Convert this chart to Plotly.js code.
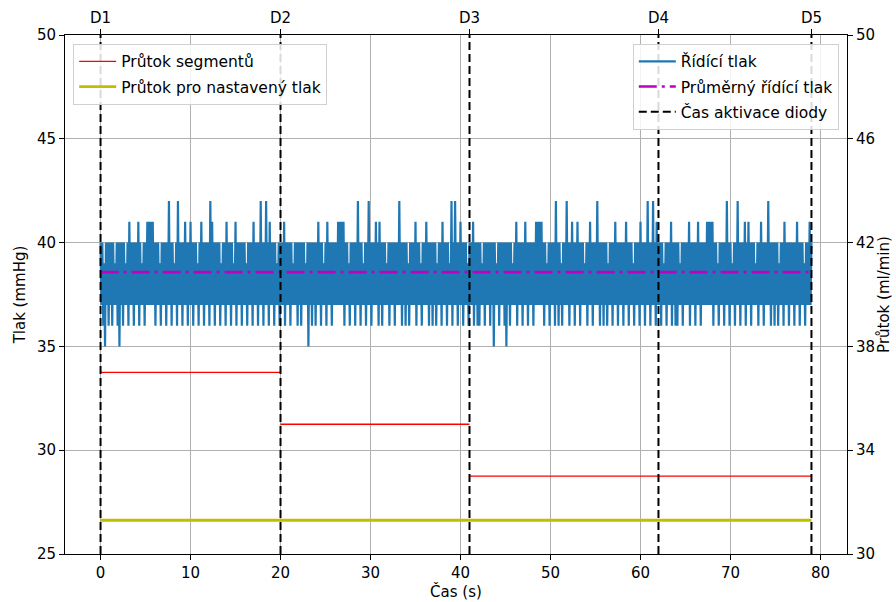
<!DOCTYPE html>
<html>
<head>
<meta charset="utf-8">
<script src="https://cdn.plot.ly/plotly-3.0.1.min.js"></script>
<style>html,body{margin:0;padding:0;background:#fff}#chart{width:896px;height:602px}</style>
</head>
<body>
<div id="chart"></div>
<script>
// Control pressure samples (mmHg), one row per second, 0.1 s apart
const pressureValues = [
40,37,40,36,39,35,40,37,40,36,
40,37,40,36,40,37,39,37,40,36,
40,35,40,37,40,36,40,37,39,37,
40,36,41,37,40,37,40,36,40,37,
40,37,41,36,40,37,39,37,40,36,
40,37,41,37,41,37,41,37,41,37,
40,36,40,37,40,37,39,36,40,37,
40,37,40,36,40,37,42,37,40,36,
40,37,39,37,40,36,42,37,40,37,
40,36,40,37,41,37,40,36,40,37,
41,37,40,36,40,37,40,37,39,36,
40,37,41,37,40,36,40,37,40,37,
40,36,42,37,41,37,40,36,40,37,
40,37,40,36,39,37,40,37,40,36,
41,37,40,37,40,36,40,37,39,37,
41,36,40,37,40,37,40,36,40,37,
40,37,39,36,40,37,40,37,40,36,
41,37,40,37,40,36,40,37,42,37,
40,36,40,37,42,37,40,36,41,37,
40,37,40,36,40,37,39,37,40,36,
40,37,40,37,41,36,40,37,40,37,
40,36,40,37,39,37,40,37,40,36,
40,37,40,36,40,37,40,37,39,37,
40,35,40,37,40,36,40,37,40,36,
40,37,41,37,40,36,40,37,39,37,
40,36,41,37,40,37,40,36,40,37,
40,37,40,37,41,37,41,37,41,37,
41,36,40,37,40,37,39,36,40,37,
40,37,40,36,40,37,42,37,40,36,
40,37,39,37,40,36,40,37,42,37,
40,36,40,37,40,37,41,37,40,36,
41,37,40,36,40,37,40,37,39,37,
40,36,40,37,40,37,40,36,40,37,
40,37,42,37,40,36,40,37,40,36,
40,37,39,36,40,37,40,37,40,37,
41,36,40,37,40,37,39,36,40,37,
40,37,41,37,40,36,40,37,40,36,
40,37,40,36,39,37,40,37,40,36,
41,37,40,37,40,36,40,37,39,37,
42,36,40,37,42,37,40,36,40,37,
41,37,40,36,40,37,40,37,39,36,
40,37,40,37,41,36,40,37,40,36,
40,36,40,37,39,37,40,36,40,37,
40,37,40,36,40,37,40,35,40,37,
39,37,40,36,40,37,40,37,40,36,
40,35,40,37,40,36,40,37,39,37,
40,37,41,36,40,37,40,37,40,36,
40,37,41,37,40,36,40,37,40,37,
40,36,40,37,41,37,41,37,41,37,
41,37,40,36,40,37,39,37,40,36,
40,37,40,37,40,36,42,37,40,36,
40,37,39,36,40,37,40,37,42,37,
40,36,40,37,41,37,40,36,40,37,
41,37,40,36,40,37,40,37,39,37,
40,36,40,37,41,37,40,36,40,37,
40,37,42,37,40,36,40,37,40,36,
40,37,40,36,39,37,40,37,40,36,
40,37,41,37,40,36,40,37,40,37,
40,36,40,37,41,37,40,36,40,37,
40,37,39,36,40,37,40,37,40,36,
41,37,40,37,40,36,40,37,42,37,
40,36,40,37,42,37,40,36,41,37,
40,37,40,36,40,37,39,37,40,36,
40,37,40,37,41,36,40,37,40,36,
40,36,40,37,39,37,40,36,40,37,
40,37,40,37,41,36,40,37,40,37,
40,36,40,37,41,37,40,36,40,37,
40,37,40,37,41,37,41,37,41,37,
41,36,40,37,40,37,39,36,40,37,
40,37,40,36,40,37,42,37,40,36,
40,37,39,37,40,36,40,37,42,37,
40,36,40,37,40,37,41,36,40,37,
41,37,40,36,40,37,40,37,39,37,
40,36,40,37,41,37,40,36,40,37,
40,37,42,37,40,36,40,37,40,36,
40,37,40,36,39,37,40,37,40,36,
41,37,40,37,40,36,40,37,40,37,
40,36,40,37,41,37,40,36,40,37,
40,37,39,36,40,37,40,37,41,37,
40
];
const sampleStep = 0.1;
const meanPressure = 38.58;

const diodeTimes = [0, 20, 41, 62, 79];
const diodeLabels = ['D1', 'D2', 'D3', 'D4', 'D5'];

const segmentStart = [0, 20, 41];
const segmentEnd = [20, 41, 79];
const segmentFlow = [37.0, 35.0, 33.0];
const setFlow = 31.3;

const timeTicks = [0, 10, 20, 30, 40, 50, 60, 70, 80];
const pressureTicks = [25, 30, 35, 40, 45, 50];
const flowTicks = [30, 34, 38, 42, 46, 50];
const pressureRange = [25, 50];
const flowRange = [30, 50];
const timeRange = [-3.95, 82.95];

// Build helper arrays
const diodeX = [], diodeY = [];
diodeTimes.forEach(t => { diodeX.push(t, t, null); diodeY.push(pressureRange[0], pressureRange[1], null); });
const segX = [], segY = [];
segmentStart.forEach((s, i) => { segX.push(s, segmentEnd[i], null); segY.push(segmentFlow[i], segmentFlow[i], null); });
const tStart = diodeTimes[0], tEnd = diodeTimes[diodeTimes.length - 1];

const traces = [
  {type:'scatter', mode:'lines', name:'Řídící tlak', y:pressureValues, x0:0, dx:sampleStep,
   xaxis:'x', yaxis:'y', line:{color:'#1f77b4', width:2.2, simplify:false}, legend:'legend2', legendgroup:'a'},
  {type:'scatter', mode:'lines', name:'Průměrný řídící tlak', x:[tStart, tEnd], y:[meanPressure, meanPressure],
   xaxis:'x', yaxis:'y', line:{color:'#bf00bf', width:2.6, dash:'18px,5px,3px,5px'}, legend:'legend2', legendgroup:'b'},
  {type:'scatter', mode:'lines', name:'Čas aktivace diody', x:diodeX, y:diodeY,
   xaxis:'x2', yaxis:'y', line:{color:'#000000', width:2, dash:'8px,4px'}, legend:'legend2', legendgroup:'c'},
  {type:'scatter', mode:'lines', name:'Průtok segmentů', x:segX, y:segY,
   xaxis:'x', yaxis:'y2', line:{color:'#ff0000', width:1.3}, legend:'legend', legendgroup:'d'},
  {type:'scatter', mode:'lines', name:'Průtok pro nastavený tlak', x:[tStart, tEnd], y:[setFlow, setFlow],
   xaxis:'x', yaxis:'y2', line:{color:'#bfbf00', width:2.8}, legend:'legend', legendgroup:'e'}
];

const FS = 15;
const font = {family:'DejaVu Sans, sans-serif', size:FS, color:'#000'};
const legendCommon = {bgcolor:'rgba(255,255,255,0.85)', bordercolor:'#d0d0d0', borderwidth:1, itemwidth:37,
  font:{family:'DejaVu Sans, sans-serif', size:15.5, color:'#000'}, traceorder:'grouped', tracegroupgap:2, yanchor:'top'};

const layout = {
  width:896, height:602,
  margin:{l:65, r:49, t:35, b:48},
  paper_bgcolor:'#fff', plot_bgcolor:'#fff',
  font:font,
  showlegend:true,
  xaxis:{range:timeRange, tickvals:timeTicks, ticktext:timeTicks.map(String), showgrid:true, gridcolor:'#b0b0b0', gridwidth:1,
    zeroline:false, showline:true, linecolor:'#000', linewidth:1, mirror:true, ticks:'outside', ticklen:5, tickcolor:'#000',
    title:{text:'Čas (s)', font:{size:FS}, standoff:4}},
  xaxis2:{range:timeRange, overlaying:'x', side:'top', tickvals:diodeTimes, ticktext:diodeLabels, showgrid:false,
    zeroline:false, showline:false, ticks:'outside', ticklen:5, tickcolor:'#000'},
  yaxis:{range:pressureRange, tickvals:pressureTicks, ticktext:pressureTicks.map(String), showgrid:true, gridcolor:'#b0b0b0', gridwidth:1,
    zeroline:false, showline:true, linecolor:'#000', linewidth:1, mirror:true, ticks:'outside', ticklen:5, tickcolor:'#000',
    title:{text:'Tlak (mmHg)', font:{size:FS}, standoff:7}},
  yaxis2:{range:flowRange, overlaying:'y', side:'right', tickvals:flowTicks, ticktext:flowTicks.map(String), showgrid:false,
    zeroline:false, showline:false, ticks:'outside', ticklen:5, tickcolor:'#000',
    title:{text:'Průtok (ml/min)', font:{size:FS}, standoff:2}},
  legend:Object.assign({x:0.0105, y:0.983, xanchor:'left'}, legendCommon),
  legend2:Object.assign({x:0.9895, y:0.983, xanchor:'right'}, legendCommon)
};

Plotly.newPlot('chart', traces, layout, {displayModeBar:false, staticPlot:true});
</script>
</body>
</html>
